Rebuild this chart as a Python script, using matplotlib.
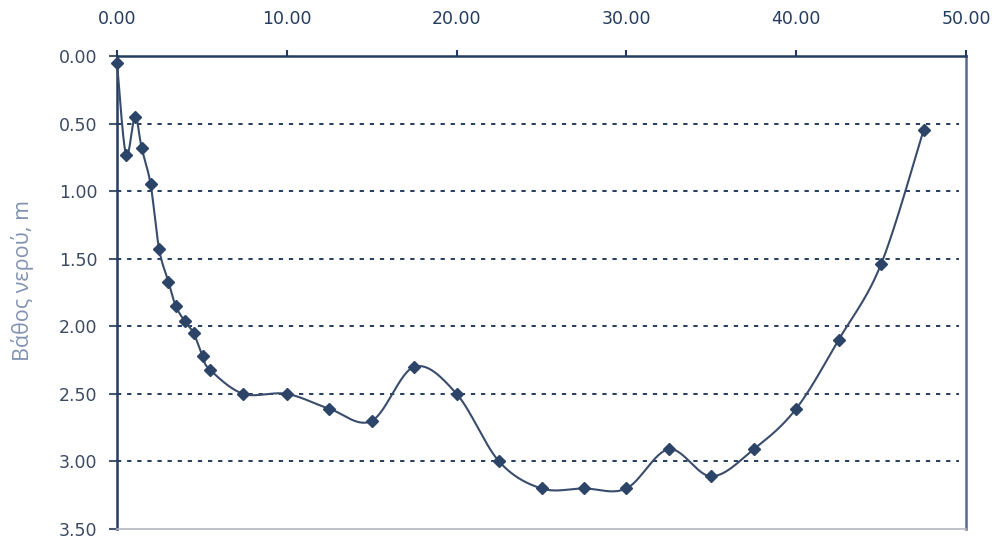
import numpy as np
import matplotlib
matplotlib.use("Agg")
import matplotlib.pyplot as plt

# Cross-section survey: distance along section (m) and water depth (m)
distance = [0.00, 0.53, 1.06, 1.45, 1.98, 2.48, 3.03, 3.46, 3.98, 4.51, 5.04, 5.46,
            7.44, 10.00, 12.50, 15.00, 17.50, 20.00, 22.50, 25.00, 27.50, 30.00,
            32.50, 35.00, 37.50, 40.00, 42.50, 45.00, 47.50]
depth = [0.05, 0.73, 0.45, 0.68, 0.95, 1.43, 1.67, 1.85, 1.96, 2.05, 2.22, 2.32,
         2.50, 2.50, 2.61, 2.70, 2.30, 2.50, 3.00, 3.20, 3.20, 3.20,
         2.91, 3.11, 2.91, 2.61, 2.10, 1.54, 0.55]

x_ticks = [0, 10, 20, 30, 40, 50]
y_ticks = [0.0, 0.5, 1.0, 1.5, 2.0, 2.5, 3.0, 3.5]
grid_levels = [0.5, 1.0, 1.5, 2.0, 2.5, 3.0]
y_label = "Βάθος νερού, m"

NAVY = "#243c60"
LINE = "#3a4c6c"


def smooth_curve(xs, ys, n=30):
    """Cardinal (Catmull-Rom style) Bezier smoothing through the points."""
    p = np.column_stack([xs, ys]).astype(float)
    ext = np.vstack([p[0], p, p[-1]])
    t = np.linspace(0, 1, n)[:, None]
    out = []
    for i in range(len(p) - 1):
        p0, p1, p2, p3 = ext[i], ext[i + 1], ext[i + 2], ext[i + 3]
        c1 = p1 + (p2 - p0) / 6.0
        c2 = p2 - (p3 - p1) / 6.0
        seg = ((1 - t) ** 3) * p1 + 3 * ((1 - t) ** 2) * t * c1 \
            + 3 * (1 - t) * t ** 2 * c2 + t ** 3 * p2
        out.append(seg if i == 0 else seg[1:])
    s = np.vstack(out)
    return s[:, 0], s[:, 1]


fig = plt.figure(figsize=(9.97, 5.39), dpi=100)
ax = fig.add_axes([117 / 997, 1 - 529 / 539, (966 - 117) / 997, (529 - 56) / 539])

sx, sy = smooth_curve(distance, depth)
ax.plot(sx, sy, color=LINE, lw=1.5, zorder=3, clip_on=False)
ax.plot(distance, depth, linestyle="none", marker="D", ms=6.5,
        color="#2c4468", zorder=4, clip_on=False)

for lvl in grid_levels:
    ax.axhline(lvl, xmin=0, xmax=0.992, color=NAVY, lw=1.4,
               linestyle=(0, (2.2, 3.0)), zorder=1)

ax.set_xlim(0, 50)
ax.set_ylim(3.5, 0)
ax.xaxis.tick_top()
ax.set_xticks(x_ticks)
ax.set_xticklabels([f"{v:.2f}" for v in x_ticks])
ax.set_yticks(y_ticks)
ax.set_yticklabels([f"{v:.2f}" for v in y_ticks])

ax.tick_params(axis="x", which="both", top=True, bottom=False, direction="out",
               length=4, width=1.5, color=NAVY, labelsize=12.5,
               labelcolor=NAVY, pad=16)
ax.tick_params(axis="y", direction="out", length=6, width=1.5, color="#4a5870",
               labelsize=12.5, labelcolor="#3c4a62", pad=8)

for name, sp in ax.spines.items():
    sp.set_linewidth(1.8)
ax.spines["left"].set_color(NAVY)
ax.spines["top"].set_color(NAVY)
ax.spines["right"].set_color("#56698a")
ax.spines["bottom"].set_color("#b4b8c0")
ax.spines["bottom"].set_linewidth(1.2)

ax.set_ylabel(y_label, color="#8192b2", fontsize=15.5,
              fontfamily=["Open Sans", "DejaVu Sans"])
ax.yaxis.set_label_coords((34 - 117) / 849, (529 - 280) / 473)

fig.savefig("out.png", dpi=100)
